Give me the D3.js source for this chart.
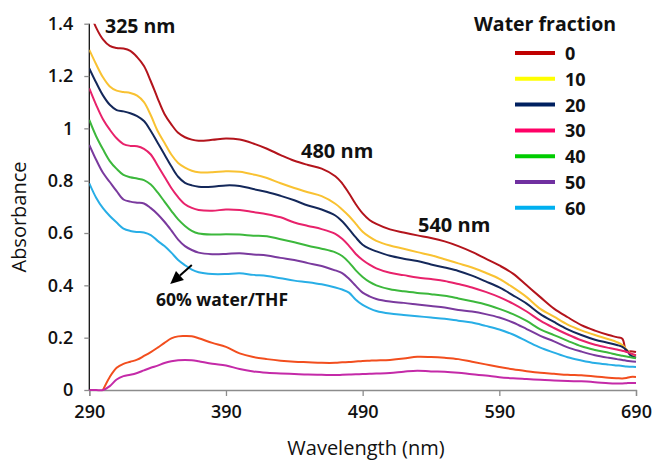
<!DOCTYPE html>
<html>
<head>
<meta charset="utf-8">
<script src="https://cdn.jsdelivr.net/npm/d3@7"></script>
<style>
  html, body { margin: 0; padding: 0; background: #fff; }
  svg { display: block; font-family: "Open Sans", "Liberation Sans", sans-serif; }
</style>
</head>
<body>
<svg id="chart" width="655" height="465"></svg>
<script>
// Wavelength grid (nm) shared by every trace
const wavelengths = [290,295,300,305,310,315,320,325,330,335,340,345,350,355,360,365,370,380,390,400,410,420,430,440,450,460,470,475,480,485,490,495,500,510,520,530,540,550,560,570,580,590,600,610,620,630,640,650,660,670,676,680,683,686,690];

// Absorbance for each water fraction (%) in THF
const water0  = [1.45,1.385,1.34,1.315,1.307,1.305,1.296,1.272,1.238,1.18,1.115,1.055,1.015,0.983,0.966,0.957,0.953,0.956,0.961,0.957,0.942,0.922,0.898,0.876,0.86,0.846,0.817,0.79,0.752,0.71,0.675,0.65,0.635,0.614,0.602,0.591,0.581,0.568,0.55,0.528,0.502,0.476,0.445,0.40,0.355,0.311,0.278,0.248,0.227,0.21,0.202,0.196,0.146,0.148,0.145];
const water10 = [1.30,1.245,1.195,1.16,1.144,1.139,1.135,1.125,1.1,1.05,0.99,0.945,0.9,0.868,0.85,0.838,0.832,0.832,0.836,0.834,0.824,0.81,0.79,0.772,0.756,0.741,0.712,0.69,0.665,0.635,0.605,0.585,0.57,0.552,0.54,0.527,0.515,0.5,0.484,0.468,0.448,0.425,0.392,0.355,0.31,0.28,0.25,0.228,0.21,0.194,0.183,0.172,0.155,0.14,0.13];
const water20 = [1.229,1.175,1.126,1.09,1.07,1.065,1.058,1.047,1.028,0.99,0.945,0.9,0.855,0.815,0.792,0.782,0.777,0.777,0.782,0.78,0.768,0.757,0.742,0.725,0.705,0.69,0.667,0.645,0.615,0.583,0.555,0.54,0.53,0.513,0.502,0.493,0.48,0.468,0.455,0.437,0.415,0.392,0.362,0.33,0.29,0.26,0.232,0.21,0.192,0.18,0.172,0.165,0.153,0.133,0.123];
const water30 = [1.153,1.09,1.035,0.995,0.962,0.94,0.933,0.932,0.922,0.9,0.858,0.815,0.772,0.737,0.71,0.696,0.688,0.685,0.69,0.688,0.68,0.672,0.66,0.64,0.627,0.615,0.597,0.578,0.551,0.52,0.497,0.479,0.465,0.448,0.439,0.43,0.424,0.417,0.405,0.392,0.375,0.355,0.33,0.3,0.265,0.237,0.212,0.19,0.173,0.161,0.155,0.15,0.146,0.14,0.133];
const water40 = [1.032,0.97,0.92,0.875,0.845,0.822,0.813,0.808,0.802,0.785,0.755,0.72,0.685,0.652,0.627,0.608,0.598,0.594,0.595,0.594,0.59,0.588,0.576,0.565,0.551,0.54,0.526,0.512,0.488,0.457,0.432,0.413,0.4,0.385,0.377,0.371,0.366,0.36,0.35,0.339,0.327,0.31,0.29,0.264,0.232,0.21,0.188,0.167,0.153,0.142,0.135,0.131,0.128,0.125,0.121];
const water50 = [0.937,0.88,0.83,0.795,0.76,0.728,0.72,0.716,0.713,0.695,0.672,0.643,0.61,0.575,0.55,0.535,0.525,0.519,0.52,0.523,0.518,0.514,0.505,0.497,0.485,0.474,0.457,0.447,0.425,0.398,0.372,0.358,0.348,0.338,0.333,0.327,0.321,0.315,0.306,0.3,0.29,0.277,0.258,0.233,0.207,0.186,0.163,0.147,0.133,0.123,0.118,0.115,0.112,0.11,0.108];
const water60 = [0.79,0.735,0.695,0.665,0.64,0.617,0.608,0.604,0.602,0.592,0.57,0.55,0.525,0.497,0.477,0.46,0.45,0.443,0.443,0.446,0.44,0.436,0.427,0.418,0.412,0.404,0.392,0.384,0.372,0.345,0.325,0.312,0.302,0.292,0.287,0.282,0.277,0.272,0.265,0.258,0.245,0.231,0.212,0.187,0.162,0.143,0.125,0.113,0.103,0.097,0.094,0.092,0.09,0.089,0.088];

// Two weak traces near the baseline (no legend entry)
const lowerOrange  = [null,null,0,0.05,0.085,0.1,0.108,0.116,0.13,0.145,0.162,0.18,0.197,0.205,0.206,0.205,0.198,0.18,0.165,0.14,0.126,0.118,0.112,0.108,0.106,0.104,0.104,0.106,0.107,0.109,0.111,0.112,0.113,0.115,0.12,0.127,0.126,0.123,0.118,0.108,0.098,0.088,0.079,0.072,0.066,0.062,0.058,0.056,0.052,0.047,0.045,0.044,0.046,0.05,0.05];
const lowerMagenta = [0,0,0,0.015,0.04,0.053,0.058,0.065,0.075,0.085,0.093,0.103,0.11,0.114,0.115,0.114,0.11,0.1,0.094,0.08,0.071,0.066,0.063,0.061,0.059,0.058,0.057,0.058,0.059,0.06,0.061,0.062,0.063,0.065,0.07,0.074,0.071,0.07,0.066,0.06,0.055,0.049,0.045,0.042,0.039,0.036,0.034,0.033,0.03,0.026,0.025,0.025,0.026,0.027,0.027];

const seriesNames = ["0","10","20","30","40","50","60"];
const seriesValues = [water0, water10, water20, water30, water40, water50, water60];
const lineColors   = ["#b3141c","#f9c232","#14285a","#e8226b","#3cb83c","#7a3a9e","#28aee6"];
const legendColors = ["#c00000","#ffff00","#002060","#ff0066","#00cc00","#7030a0","#00b0f0"];

const xTicks = [290,390,490,590,690];
const yTicks = [0,0.2,0.4,0.6,0.8,1,1.2,1.4];

const svg = d3.select("#chart");
const x = d3.scaleLinear().domain([290, 690]).range([89.3, 636]);
const y = d3.scaleLinear().domain([0, 1.4]).range([390, 23.7]);

svg.append("defs").append("clipPath").attr("id", "plotClip")
  .append("rect").attr("x", x(290)).attr("y", y(1.4)).attr("width", x(690) - x(290) + 4).attr("height", y(0) - y(1.4) + 3);

// axes
const xAxis = svg.append("g").attr("transform", `translate(0,${y(0)})`)
  .call(d3.axisBottom(x).tickValues(xTicks).tickSize(6).tickPadding(9).tickFormat(d3.format("d")));
xAxis.select(".domain").attr("stroke", "#8c8c8c").attr("stroke-width", 1.3);
xAxis.selectAll(".tick line").attr("stroke", "#8c8c8c").attr("stroke-width", 1.3);
xAxis.selectAll(".tick text").attr("fill", "#111").attr("font-size", 18).attr("font-weight", 600)
  .attr("font-family", "'Open Sans', sans-serif");

const yAxis = svg.append("g").attr("transform", `translate(${x(290)},0)`)
  .call(d3.axisLeft(y).tickValues(yTicks).tickSize(5).tickPadding(11).tickFormat(d3.format("~g")));
yAxis.select(".domain").attr("stroke", "#111").attr("stroke-width", 1.3).attr("d", `M0,${y(1.4)}V${y(0)}`);
yAxis.selectAll(".tick line").attr("stroke", "#8c8c8c").attr("stroke-width", 1.3);
yAxis.selectAll(".tick text").attr("fill", "#111").attr("font-size", 18).attr("font-weight", 600)
  .attr("font-family", "'Open Sans', sans-serif");

// axis titles
svg.append("text").attr("x", 366).attr("y", 455).attr("text-anchor", "middle")
  .attr("font-size", 20).attr("fill", "#111").text("Wavelength (nm)");
svg.append("text").attr("transform", "translate(26,217) rotate(-90)").attr("text-anchor", "middle")
  .attr("font-size", 20).attr("fill", "#111").text("Absorbance");

// traces
const line = d3.line()
  .defined(d => d[1] !== null)
  .x(d => x(d[0])).y(d => y(d[1]))
  .curve(d3.curveCatmullRom.alpha(0.5));

const plot = svg.append("g").attr("clip-path", "url(#plotClip)");
const lower = [
  {values: lowerOrange, color: "#f24e1e"},
  {values: lowerMagenta, color: "#c42aa8"}
];
lower.forEach(s => {
  plot.append("path").datum(wavelengths.map((w, i) => [w, s.values[i]]))
    .attr("fill", "none").attr("stroke", s.color).attr("stroke-width", 2).attr("d", line);
});
seriesValues.forEach((vals, k) => {
  plot.append("path").datum(wavelengths.map((w, i) => [w, vals[i]]))
    .attr("fill", "none").attr("stroke", lineColors[k]).attr("stroke-width", 2).attr("d", line);
});

// peak annotations
const bold = (t, px, py, size) => svg.append("text").attr("x", px).attr("y", py)
  .attr("font-size", size).attr("font-weight", 700).attr("fill", "#111").text(t);
bold("325 nm", 105, 33, 19.5);
bold("480 nm", 301, 158, 20);
bold("540 nm", 418, 232, 20);
bold("60% water/THF", 156, 306, 17.5);

// arrow toward the 60% trace label
const tail = [x(365), y(0.478)];
const tip = [x(349.2), y(0.405)];
const dx = tip[0] - tail[0], dy = tip[1] - tail[1];
const len = Math.hypot(dx, dy), ux = dx / len, uy = dy / len;
const headLen = 13, headHalf = 6;
const base = [tip[0] - ux * headLen, tip[1] - uy * headLen];
svg.append("line").attr("x1", tail[0]).attr("y1", tail[1]).attr("x2", base[0]).attr("y2", base[1])
  .attr("stroke", "#000").attr("stroke-width", 2);
svg.append("path").attr("fill", "#000").attr("d", d3.line()([
  tip,
  [base[0] - uy * headHalf, base[1] + ux * headHalf],
  [base[0] + uy * headHalf, base[1] - ux * headHalf]
]) + "Z");

// legend
const legend = svg.append("g");
legend.append("text").attr("x", 474).attr("y", 31).attr("font-size", 19.5).attr("font-weight", 700)
  .attr("fill", "#111").text("Water fraction");
seriesNames.forEach((name, k) => {
  const cy = 53 + k * 25.8;
  legend.append("line").attr("x1", 515).attr("x2", 555).attr("y1", cy).attr("y2", cy)
    .attr("stroke", legendColors[k]).attr("stroke-width", 4);
  legend.append("text").attr("x", 565).attr("y", cy + 7).attr("font-size", 18).attr("font-weight", 700)
    .attr("fill", "#111").text(name);
});
</script>
</body>
</html>
